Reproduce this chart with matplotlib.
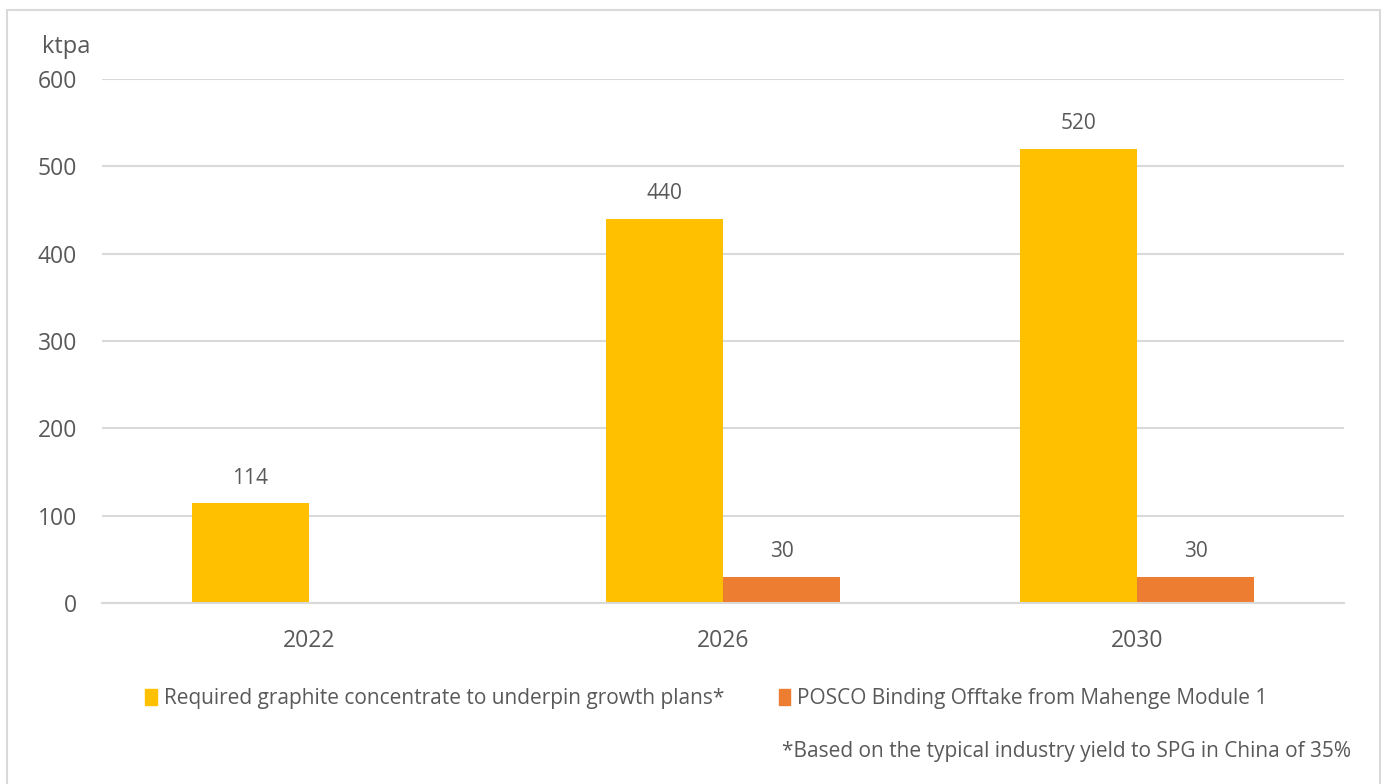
import numpy as np
import matplotlib.pyplot as plt
from matplotlib.patches import Rectangle, Patch

years = ['2022', '2026', '2030']
required = [114, 440, 520]
posco = [np.nan, 30, 30]
required_name = 'Required graphite concentrate to underpin growth plans*'
posco_name = 'POSCO Binding Offtake from Mahenge Module 1'
note = '*Based on the typical industry yield to SPG in China of 35%'

yellow = '#FFC000'
orange = '#ED7D31'
txt = '#595959'
grid = '#D9D9D9'

plt.rcParams['font.family'] = ['Open Sans', 'DejaVu Sans']

fig = plt.figure(figsize=(13.88, 7.84), dpi=100)
fig.patches.append(Rectangle((0.005, -0.01), 0.989, 0.997, transform=fig.transFigure,
                             fill=False, edgecolor='#D9D9D9', lw=1.5))
ax = fig.add_axes([0.0735, 0.2309, 0.8948, 0.6683])

x = np.arange(len(years))
w = 0.283
b1 = ax.bar(x - w / 2, required, w, color=yellow, label=required_name)
b2 = ax.bar(x + w / 2, posco, w, color=orange, label=posco_name)

for bars, vals in ((b1, required), (b2, posco)):
    for r, v in zip(bars, vals):
        if np.isnan(v):
            continue
        ax.text(r.get_x() + r.get_width() / 2, v + 17, str(v), ha='center', va='bottom',
                fontsize=15, color=txt)

ax.set_xlim(-0.5, 2.5)
ax.set_ylim(0, 600)
ax.set_yticks(range(0, 601, 100))
ax.set_xticks(x)
ax.set_xticklabels(years)
ax.yaxis.grid(True, color=grid, lw=1.5)
ax.set_axisbelow(True)
for s in ax.spines.values():
    s.set_visible(False)
ax.spines['bottom'].set_visible(True)
ax.spines['bottom'].set_color(grid)
ax.spines['bottom'].set_linewidth(1.5)
ax.tick_params(axis='both', length=0, labelsize=16.5, labelcolor=txt)
ax.tick_params(axis='y', pad=18)
ax.tick_params(axis='x', pad=19)

fig.text(0.030, 0.940, 'ktpa', fontsize=17, color=txt, va='center')

handles = [Patch(color=yellow), Patch(color=orange)]
fig.legend(handles, [required_name, posco_name], loc='center', bbox_to_anchor=(0.509, 0.109),
           ncol=2, frameon=False, fontsize=15, labelcolor=txt, handlelength=0.55,
           handleheight=0.85, handletextpad=0.35, columnspacing=2.6)

fig.text(0.973, 0.042, note, ha='right', va='center', fontsize=15, color=txt)

fig.savefig('out.png', dpi=100)
